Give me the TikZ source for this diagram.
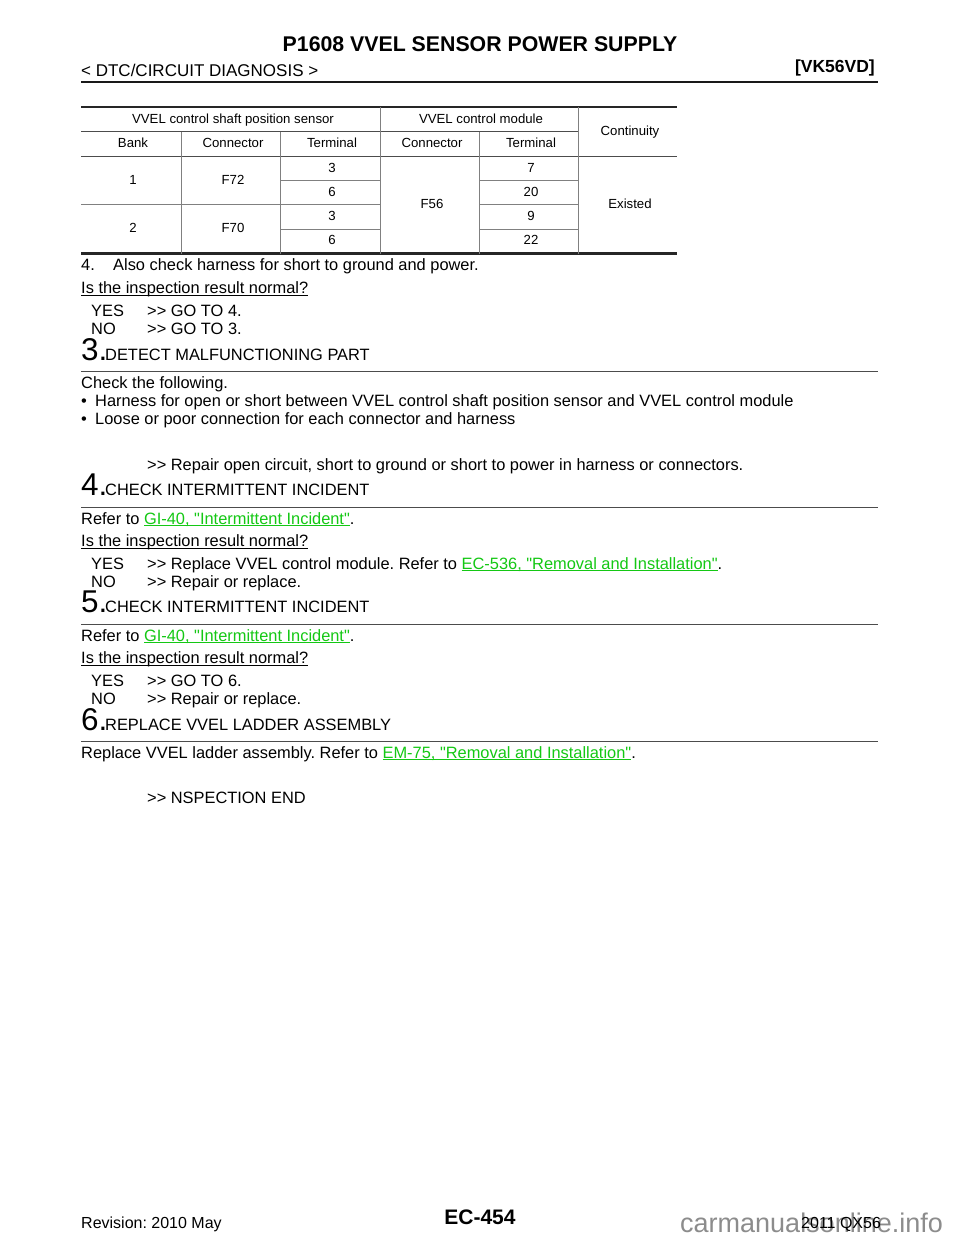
\documentclass[tikz,border=0pt]{standalone}
\usepackage{fontspec}
\setmainfont{Liberation Sans}[Ligatures=TeXOff]
\definecolor{linkgreen}{RGB}{20,200,20}
\newcommand{\ulined}[1]{\setbox0=\hbox{#1}\rlap{\rule[-1.9pt]{\wd0}{0.9pt}}\box0}
\newcommand{\lnk}[1]{\textcolor{linkgreen}{\ulined{#1}}}
\frenchspacing
\begin{document}
\begin{tikzpicture}[x=1pt,y=-1pt]
	\tikzset{body/.style={anchor=base west,inner sep=0pt,font=\fontsize{16.4}{18}\selectfont}}
	\tikzset{foot/.style={anchor=base west,inner sep=0pt,font=\fontsize{16}{18}\selectfont}}
	\tikzset{stepnum/.style={anchor=base west,inner sep=0pt,font=\fontsize{31.5}{34}\selectfont}}
	\tikzset{cell/.style={anchor=base,inner sep=0pt,font=\fontsize{13.2}{14}\selectfont}}
	\tikzset{rulethick/.style={line width=2.2pt,black!85}}
	\tikzset{rulethin/.style={line width=1pt,black!70}}
	\tikzset{rulehair/.style={line width=0.6pt,black!50}}
	\useasboundingbox (0,0) rectangle (960,1242);
	\fill [white] (0,0) rectangle (960,1242);
	% page head
	\node (title) at (480,51) [anchor=base,inner sep=0pt,font=\fontsize{21.3}{23}\selectfont\bfseries] {P1608 VVEL SENSOR POWER SUPPLY};
	\node (chapter) at (81,76) [anchor=base west,inner sep=0pt,font=\fontsize{17}{19}\selectfont] {< DTC/CIRCUIT DIAGNOSIS >};
	\node (engine) at (875,72) [anchor=base east,inner sep=0pt,font=\fontsize{17.5}{19}\selectfont\bfseries] {[VK56VD]};
	\draw [line width=2.4pt,black!90] (81,82) -- (878,82);
	% table
	\draw [rulethick] (81,107) -- (677,107);
	\draw [rulethin] (81,131.5) -- (578,131.5);
	\draw [rulethin] (81,156) -- (677,156);
	\draw [rulehair] (280,180.5) -- (380,180.5);
	\draw [rulehair] (479,180.5) -- (578,180.5);
	\draw [rulehair] (81,204.5) -- (380,204.5);
	\draw [rulehair] (479,204.5) -- (578,204.5);
	\draw [rulehair] (280,229) -- (380,229);
	\draw [rulehair] (479,229) -- (578,229);
	\draw [rulethick] (81,253.5) -- (677,253.5);
	\draw [rulehair] (380,107) -- (380,253.5);
	\draw [rulehair] (578,107) -- (578,253.5);
	\draw [rulehair] (181,131.5) -- (181,253.5);
	\draw [rulehair] (280,131.5) -- (280,253.5);
	\draw [rulehair] (479,131.5) -- (479,253.5);
	\node (hsensor) at (233,123) [cell] {VVEL control shaft position sensor};
	\node (hmodule) at (481,123) [cell] {VVEL control module};
	\node (hcont) at (630,135) [cell] {Continuity};
	\node (hbank) at (133,147) [cell] {Bank};
	\node (hconn1) at (233,147) [cell] {Connector};
	\node (hterm1) at (332,147) [cell] {Terminal};
	\node (hconn2) at (432,147) [cell] {Connector};
	\node (hterm2) at (531,147) [cell] {Terminal};
	\node (bank1) at (133,184) [cell] {1};
	\node (conn1) at (233,184) [cell] {F72};
	\node (bank2) at (133,232) [cell] {2};
	\node (conn2) at (233,232) [cell] {F70};
	\node (conn3) at (432,208) [cell] {F56};
	\node (exist) at (630,208) [cell] {Existed};
	\node (ta) at (332,172) [cell] {3};
	\node (tb) at (332,196) [cell] {6};
	\node (tc) at (332,220) [cell] {3};
	\node (td) at (332,244.5) [cell] {6};
	\node (ma) at (531,172) [cell] {7};
	\node (mb) at (531,196) [cell] {20};
	\node (mc) at (531,220) [cell] {9};
	\node (md) at (531,244.5) [cell] {22};
	% text before step 3
	\node (item4) at (81,270.5) [body] {4.};
	\node (item4b) at (113,270.5) [body] {Also check harness for short to ground and power.};
	\node (ask2) at (81,293.5) [body] {\ulined{Is the inspection result normal?}};
	\node (yes2) at (91,316) [body] {YES};
	\node (yes2b) at (147,316) [body] {>> GO TO 4.};
	\node (no2) at (91,334) [body] {NO};
	\node (no2b) at (147,334) [body] {>> GO TO 3.};
	% step 3
	\node (num3) at (81,360.5) [stepnum] {3.};
	\node (head3) at (105,360) [body] {DETECT MALFUNCTIONING PART};
	\draw [rulethin] (81,371) -- (878,371);
	\node (chk3) at (81,388) [body] {Check the following.};
	\node (chk3a) at (81,406) [body] {•};
	\node (chk3b) at (95,406) [body] {Harness for open or short between VVEL control shaft position sensor and VVEL control module};
	\node (chk3c) at (81,424) [body] {•};
	\node (chk3d) at (95,424) [body] {Loose or poor connection for each connector and harness};
	\node (rep3) at (147,470) [body] {>> Repair open circuit, short to ground or short to power in harness or connectors.};
	% step 4
	\node (num4) at (81,495.5) [stepnum] {4.};
	\node (head4) at (105,495) [body] {CHECK INTERMITTENT INCIDENT};
	\draw [rulethin] (81,507) -- (878,507);
	\node (ref4) at (81,524) [body] {Refer to \lnk{GI-40, "Intermittent Incident"}.};
	\node (ask4) at (81,546.5) [body] {\ulined{Is the inspection result normal?}};
	\node (yes4) at (91,569) [body] {YES};
	\node (yes4b) at (147,569) [body] {>> Replace VVEL control module. Refer to \lnk{EC-536, "Removal and Installation"}.};
	\node (no4) at (91,587) [body] {NO};
	\node (no4b) at (147,587) [body] {>> Repair or replace.};
	% step 5
	\node (num5) at (81,612.5) [stepnum] {5.};
	\node (head5) at (105,612.5) [body] {CHECK INTERMITTENT INCIDENT};
	\draw [rulethin] (81,624) -- (878,624);
	\node (ref5) at (81,641) [body] {Refer to \lnk{GI-40, "Intermittent Incident"}.};
	\node (ask5) at (81,663.5) [body] {\ulined{Is the inspection result normal?}};
	\node (yes5) at (91,686) [body] {YES};
	\node (yes5b) at (147,686) [body] {>> GO TO 6.};
	\node (no5) at (91,704) [body] {NO};
	\node (no5b) at (147,704) [body] {>> Repair or replace.};
	% step 6
	\node (num6) at (81,730) [stepnum] {6.};
	\node (head6) at (105,730) [body] {REPLACE VVEL LADDER ASSEMBLY};
	\draw [rulethin] (81,741) -- (878,741);
	\node (ref6) at (81,758) [body] {Replace VVEL ladder assembly. Refer to \lnk{EM-75, "Removal and Installation"}.};
	\node (end6) at (147,803) [body] {>> NSPECTION END};
	% page foot
	\node (rev) at (81,1228.5) [foot] {Revision: 2010 May};
	\node (page) at (480,1224) [anchor=base,inner sep=0pt,font=\fontsize{21}{23}\selectfont\bfseries] {EC-454};
	\node (mark) at (680,1232) [anchor=base west,inner sep=0pt,text=black!45,font=\fontsize{27}{29}\selectfont] {carmanualsonline.info};
	\node (model) at (801,1228.5) [foot] {2011 QX56};
\end{tikzpicture}
\end{document}
